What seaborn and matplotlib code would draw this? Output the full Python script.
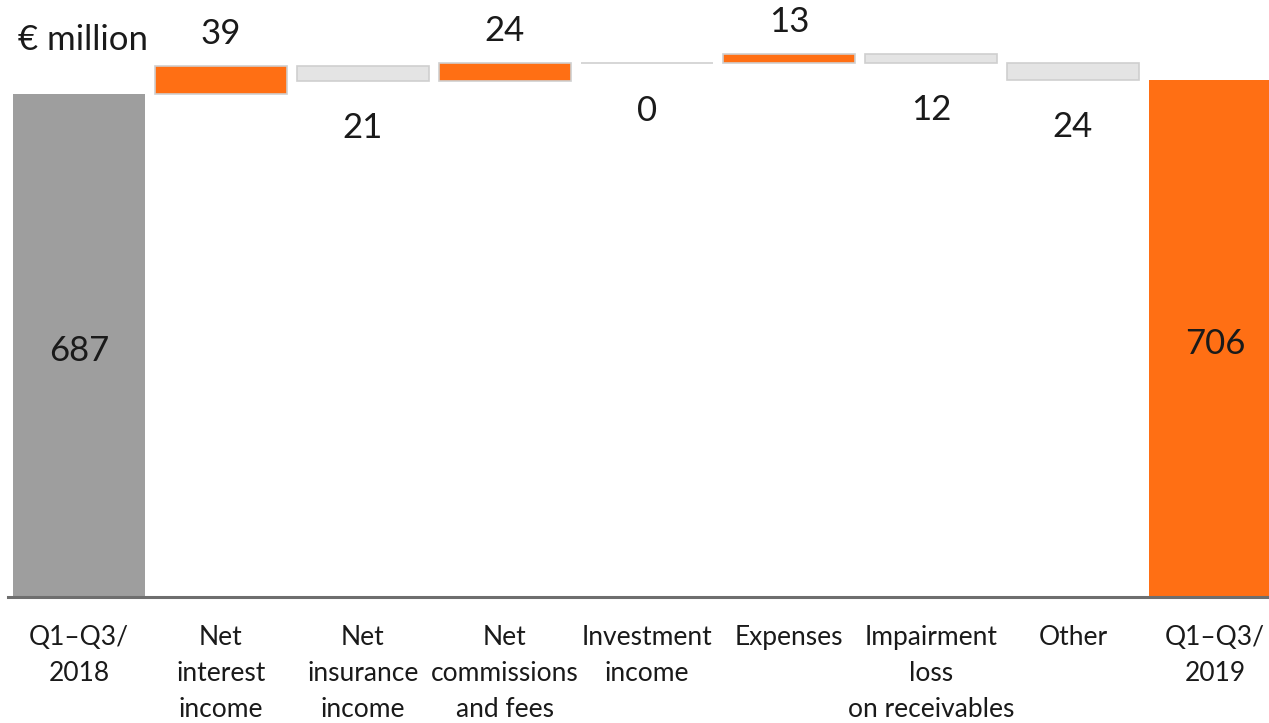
import matplotlib
matplotlib.use("Agg")
import matplotlib.pyplot as plt
import seaborn as sns
import numpy as np

categories = ["Q1–Q3/\n2018", "Net\ninterest\nincome", "Net\ninsurance\nincome",
              "Net\ncommissions\nand fees", "Investment\nincome", "Expenses",
              "Impairment\nloss\non receivables", "Other", "Q1–Q3/\n2019"]
start_total = 687
end_total = 706
deltas = [39, -21, 24, 0, 13, -12, -24]
labels = ["687", "39", "21", "24", "0", "13", "12", "24", "706"]

sns.set_theme(style="white")
plt.rcParams['font.family'] = ['Lato', 'DejaVu Sans']

ORANGE = "#ff6f14"
GRAY = "#9e9e9e"
LIGHT = "#e4e4e4"
TXT = "#1a1a1a"

fig = plt.figure(figsize=(12.69, 7.23), dpi=100)
W, H = 1269, 723
x_left_px, x_right_px = 8, 1286
base_px = 597
ax = fig.add_axes([x_left_px / W, 1 - base_px / H, (x_right_px - x_left_px) / W, base_px / H])

totals = [start_total] + [0] * len(deltas) + [end_total]
sns.barplot(x=list(range(len(categories))), y=totals, palette=[GRAY] + [LIGHT] * len(deltas) + [ORANGE],
            hue=list(range(len(categories))), legend=False, width=0.93, ax=ax, saturation=1,
            edgecolor="none")

cum = start_total
bottoms, heights = [], []
for d in deltas:
    bottoms.append(cum if d >= 0 else cum + d)
    heights.append(abs(d))
    cum += d
pos = np.arange(1, len(deltas) + 1)
cols = [ORANGE if d > 0 else LIGHT for d in deltas]
ax.bar(pos, heights, bottom=bottoms, width=0.93, color=cols, edgecolor="#cfcfcf", linewidth=1.2)

ax.set_xlim(-0.5, len(categories) - 0.5)
ax.set_ylim(0, base_px / 0.732)
ax.set_xticks(range(len(categories)))
ax.set_xticklabels(categories, fontsize=19, linespacing=1.55, va="top")
ax.tick_params(axis="x", length=0, pad=20, colors=TXT)
ax.set_yticks([])
for s in ["top", "right", "left"]:
    ax.spines[s].set_visible(False)
ax.spines["bottom"].set_color("#6e6e6e")
ax.spines["bottom"].set_linewidth(2.2)

# value labels
ax.text(0, start_total / 2 - 7, labels[0], ha="center", va="center", fontsize=25, color=TXT)
ax.text(len(categories) - 1, end_total / 2 - 7, labels[-1], ha="center", va="center", fontsize=25, color=TXT)
cum = start_total
for i, d in enumerate(deltas):
    top = cum + max(d, 0)
    bot = cum + min(d, 0)
    if d > 0:
        ax.annotate(labels[i + 1], (i + 1, top), xytext=(0, 23), textcoords="offset points",
                    ha="center", va="center", fontsize=25, color=TXT, annotation_clip=False)
    else:
        ax.annotate(labels[i + 1], (i + 1, bot), xytext=(0, -34), textcoords="offset points",
                    ha="center", va="center", fontsize=25, color=TXT, annotation_clip=False)
    cum += d

fig.text(18 / W, 1 - 40 / H, "€ million", ha="left", va="center", fontsize=25, color=TXT)

fig.savefig("out.png", dpi=100, facecolor="white")
